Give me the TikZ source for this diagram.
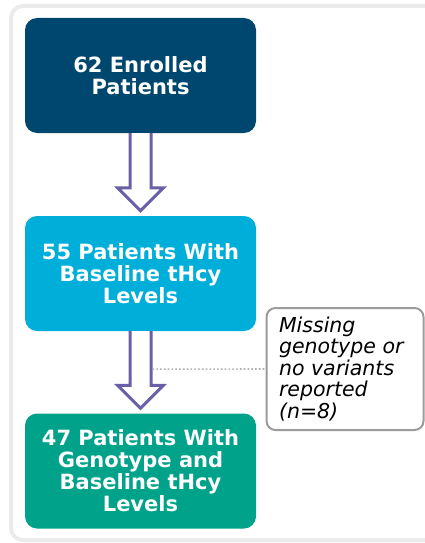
\documentclass[tikz,border=0pt]{standalone}
\usepackage{fontspec}
\setmainfont{DejaVu Sans}
\usepackage{tikz}
\usetikzlibrary{calc}
\usetikzlibrary{positioning}
\definecolor{enrolblue}{RGB}{0,71,111}
\definecolor{baseblue}{RGB}{0,174,218}
\definecolor{genoteal}{RGB}{0,162,138}
\definecolor{arrowpurple}{RGB}{104,96,168}
\definecolor{framegray}{RGB}{235,235,235}
\definecolor{notegray}{RGB}{155,155,155}

\tikzset{
  stagebox/.style={rounded corners=12pt,minimum width=231pt,minimum height=115pt,
    inner sep=0pt,text=white,align=center,font=\fontsize{21}{22}\selectfont\bfseries},
  notebox/.style={draw=notegray,line width=2pt,rounded corners=9pt,fill=white,
    minimum width=157pt,minimum height=122pt,inner sep=0pt},
  flowarrow/.style={draw=arrowpurple,line width=3pt,fill=white,line join=miter},
  excluded/.style={draw=notegray!80,line width=1.6pt,dash pattern=on 1.6pt off 2.2pt}
}

% hollow block arrow from one box down to the next
\newcommand{\hollowarrow}[2]{%
  \draw[flowarrow] ($(#1.south)+(-10.5,0)$) -- ($(#2.north)+(-10.5,-28)$)
    -- ($(#2.north)+(-23,-28)$) -- ($(#2.north)+(0,-5)$)
    -- ($(#2.north)+(23,-28)$) -- ($(#2.north)+(10.5,-28)$)
    -- ($(#1.south)+(10.5,0)$);}

\begin{document}
\begin{tikzpicture}[x=1pt,y=-1pt]
  \useasboundingbox (0,0) rectangle (425,543);
  % outer frame
  \draw[framegray,line width=4pt,rounded corners=12pt] (11,6) rectangle (460,540);

  \node[stagebox,fill=enrolblue] (enrolled) at (140.5,75.5) {62 Enrolled\\Patients};
  \node[stagebox,fill=baseblue] (baseline) at (140.5,273.5) {55 Patients With\\Baseline tHcy\\Levels};
  \node[stagebox,fill=genoteal] (genotype) at (140.5,471) {47 Patients With\\Genotype and\\Baseline tHcy\\Levels};

  \hollowarrow{enrolled}{baseline}
  \hollowarrow{baseline}{genotype}

  \node[notebox] (missing) at (345,369) {};
  \node[anchor=west,align=left,font=\fontsize{20.5}{21.5}\selectfont\itshape]
    (missingtext) at ($(missing.west)+(10,0)$)
    {Missing\\genotype or\\no variants\\reported\\(n=8)};

  \coordinate (shaft) at ($(baseline.south)+(12,38)$);
  \draw[excluded] (shaft) -- (missing.west);
\end{tikzpicture}
\end{document}
